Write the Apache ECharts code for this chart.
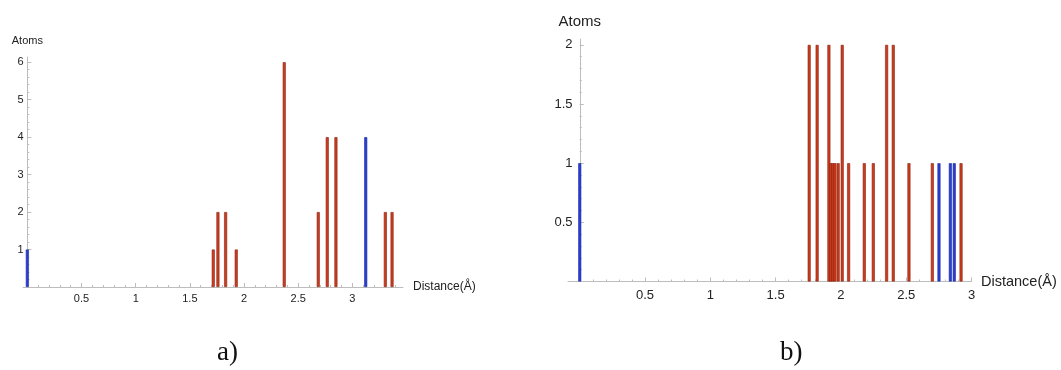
<!DOCTYPE html>
<html>
<head>
<meta charset="utf-8">
<script src="https://cdn.jsdelivr.net/npm/echarts@6/dist/echarts.min.js"></script>
<style>
html,body{margin:0;padding:0;background:#fff;}
#c{width:1061px;height:370px;}
</style>
</head>
<body>
<div id="c"></div>
<script>
// ---- Data (panel a) ----
const aRedX  = [1.716, 1.759, 1.83, 1.928, 2.371, 2.685, 2.768, 2.848, 3.304, 3.366];
const aRedY  = [1, 2, 2, 1, 6, 2, 4, 4, 2, 2];
const aBlueX = [0, 3.123];
const aBlueY = [1, 4];
const aXTicks = [0.5, 1, 1.5, 2, 2.5, 3];
const aYTicks = [1, 2, 3, 4, 5, 6];
// ---- Data (panel b) ----
const bRedX  = [1.757, 1.818, 1.908, 1.923, 1.939, 1.954, 1.979, 2.01, 2.059, 2.179, 2.248, 2.35, 2.401, 2.521, 2.70, 2.92];
const bRedY  = [2, 2, 2, 1, 1, 1, 1, 2, 1, 1, 1, 2, 2, 1, 1, 1];
const bBlueX = [0, 2.751, 2.838, 2.868];
const bBlueY = [1, 1, 1, 1];
const bXTicks = [0.5, 1, 1.5, 2, 2.5, 3];
const bYTicks = [0.5, 1, 1.5, 2];
const captions = ['a)', 'b)'];
const xName = 'Distance(Å)';
const yName = 'Atoms';

function steps(lo, hi, st) {
  const out = [];
  for (let i = Math.round(lo / st); i * st <= hi + 1e-9; i++) out.push(+(i * st).toFixed(4));
  return out;
}
function pairs(xs, ys) { return xs.map((x, i) => [x, ys[i]]); }

const AX = '#bdbdbd';
const RED = '#cc3b1d', RED_EDGE = '#8a2410', BLUE = '#2b3ed3', BLUE_EDGE = '#1a2aa0';

function makeAxes(grid, xr, yr, xt, yt, xMinorStep, yMinorStep, fs, yfs, xNameFs, yNameFs, xNameGap, yNameGap, xLblMargin, yLblMargin) {
  const xMain = {
    type: 'value', gridIndex: grid, min: xr[0], max: xr[1], position: 'bottom',
    axisLine: {show: true, onZero: true, lineStyle: {color: AX, width: 1}},
    axisTick: {show: true, inside: true, length: 4, customValues: xt, lineStyle: {color: AX}},
    axisLabel: {show: true, customValues: xt, margin: xLblMargin, color: '#222', fontSize: fs, fontFamily: 'Liberation Sans'},
    splitLine: {show: false},
    name: xName, nameLocation: 'end', nameGap: xNameGap,
    nameTextStyle: {color: '#222', fontSize: xNameFs, fontFamily: 'Liberation Sans', align: 'left', verticalAlign: 'middle'}
  };
  const xMinor = {
    type: 'value', gridIndex: grid, min: xr[0], max: xr[1], position: 'bottom',
    axisLine: {show: false, onZero: true},
    axisTick: {show: true, inside: true, length: 2, customValues: steps(0, xr[1], xMinorStep), lineStyle: {color: AX}},
    axisLabel: {show: false}, splitLine: {show: false}
  };
  const yMain = {
    type: 'value', gridIndex: grid, min: yr[0], max: yr[1], position: 'left',
    axisLine: {show: true, onZero: true, lineStyle: {color: AX, width: 1}},
    axisTick: {show: true, inside: true, length: 4, customValues: yt, lineStyle: {color: AX}},
    axisLabel: {show: true, customValues: yt, margin: yLblMargin, color: '#222', fontSize: yfs, fontFamily: 'Liberation Sans'},
    splitLine: {show: false},
    name: yName, nameLocation: 'end', nameGap: yNameGap,
    nameTextStyle: {color: '#222', fontSize: yNameFs, fontFamily: 'Liberation Sans'}
  };
  const yMinor = {
    type: 'value', gridIndex: grid, min: yr[0], max: yr[1], position: 'left',
    axisLine: {show: false, onZero: true},
    axisTick: {show: true, inside: true, length: 2, customValues: steps(0, yr[1], yMinorStep), lineStyle: {color: AX}},
    axisLabel: {show: false}, splitLine: {show: false}
  };
  return {x: [xMain, xMinor], y: [yMain, yMinor]};
}

const A = makeAxes(0, [-0.04, 3.467], [0, 6.14], aXTicks, aYTicks, 0.1, 0.2, 11, 11, 12, 11, 10, 11, 6, -0.5);
const B = makeAxes(1, [-0.09, 3.0], [0, 2.05], bXTicks, bYTicks, 0.1, 0.1, 13, 13, 14.5, 15, 6, 10, 7, -4.5);

function barSeries(xi, yi, data, color, edge) {
  return {
    type: 'bar', xAxisIndex: xi, yAxisIndex: yi, data: data,
    barWidth: 3, barGap: '-100%', animation: false,
    itemStyle: {color: color, borderColor: edge, borderWidth: 0.6}
  };
}

const option = {
  animation: false,
  backgroundColor: '#fff',
  title: [
    {text: captions[0], left: 212, top: 334, textStyle: {fontFamily: 'Liberation Serif', fontSize: 27, fontWeight: 'normal', color: '#111'}},
    {text: captions[1], left: 775, top: 334, textStyle: {fontFamily: 'Liberation Serif', fontSize: 27, fontWeight: 'normal', color: '#111'}}
  ],
  grid: [
    {left: 23, top: 57, width: 380, height: 230, containLabel: false},
    {left: 568, top: 39, width: 403.5, height: 242.5, containLabel: false}
  ],
  xAxis: [A.x[0], A.x[1], B.x[0], B.x[1]],
  yAxis: [A.y[0], A.y[1], B.y[0], B.y[1]],
  series: [
    barSeries(0, 0, pairs(aRedX, aRedY), RED, RED_EDGE),
    barSeries(0, 0, pairs(aBlueX, aBlueY), BLUE, BLUE_EDGE),
    barSeries(2, 2, pairs(bRedX, bRedY), RED, RED_EDGE),
    barSeries(2, 2, pairs(bBlueX, bBlueY), BLUE, BLUE_EDGE)
  ]
};

const chart = echarts.init(document.getElementById('c'), null, {renderer: 'canvas'});
chart.setOption(option);
</script>
</body>
</html>
